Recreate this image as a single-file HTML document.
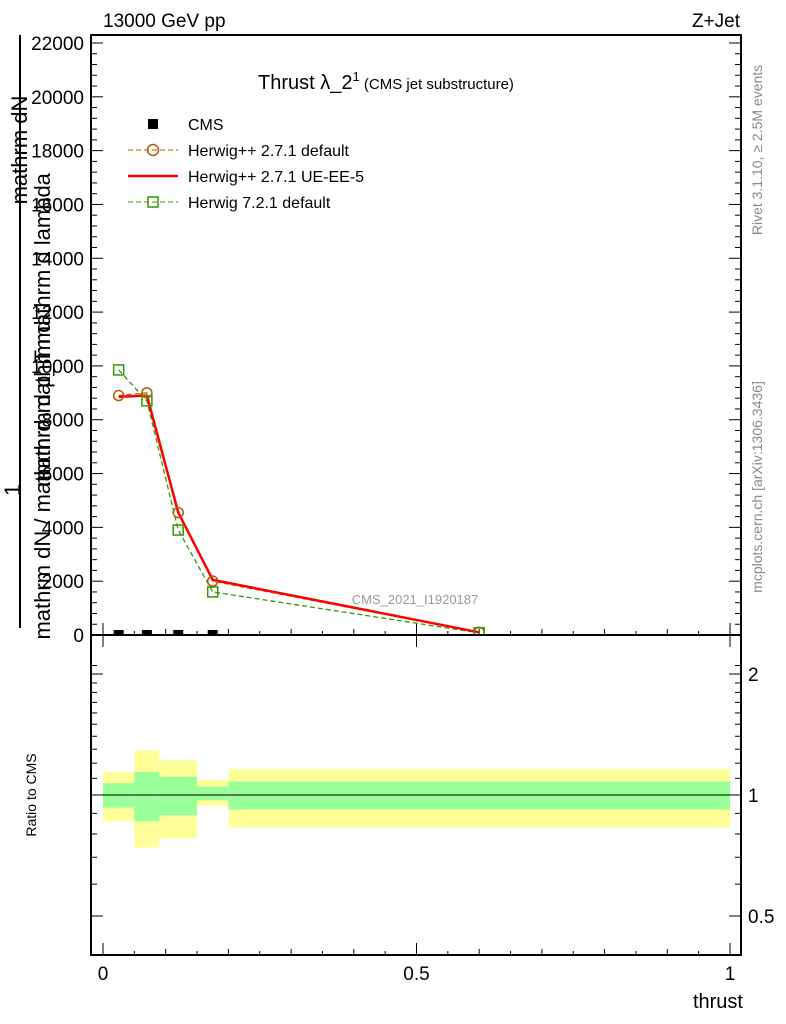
<!DOCTYPE html>
<html><head><meta charset="utf-8"><style>
body{margin:0;background:#fff}
svg{display:block;font-family:"Liberation Sans",sans-serif}
</style></head><body>
<svg id="c" width="786" height="1024" viewBox="0 0 786 1024" xmlns="http://www.w3.org/2000/svg">
<defs><clipPath id="mc"><rect x="91" y="35" width="650" height="600"/></clipPath>
<clipPath id="rc"><rect x="91" y="635" width="650" height="320"/></clipPath></defs>
<text x="103" y="27" font-size="19">13000 GeV pp</text>
<text x="740" y="27" font-size="19" text-anchor="end">Z+Jet</text>
<text x="258" y="89" font-size="20">Thrust λ_2<tspan font-size="13" dy="-8">1</tspan><tspan font-size="15" dy="8"> (CMS jet substructure)</tspan></text>
<g id="ratioBands" clip-path="url(#rc)"></g>
<g id="ticks"></g>
<g id="series" clip-path="url(#mc)"></g>
<rect x="91" y="35" width="650" height="600" fill="none" stroke="#000" stroke-width="2"/>
<rect x="91" y="635" width="650" height="320" fill="none" stroke="#000" stroke-width="2"/>
<line x1="91" x2="741" y1="795" y2="795" stroke="#000" stroke-width="1"/>
<text x="415" y="604" font-size="13" fill="#999" text-anchor="middle">CMS_2021_I1920187</text>
<text x="743" y="1008" font-size="20" text-anchor="end">thrust</text>
<text transform="translate(36,795) rotate(-90)" font-size="14" text-anchor="middle">Ratio to CMS</text>
<g font-size="22">
<text transform="translate(20,490) rotate(-90)" text-anchor="middle">1</text>
<line x1="20" x2="20" y1="35" y2="628" stroke="#000" stroke-width="2"/>
<text transform="translate(27,150) rotate(-90)" text-anchor="middle">mathrm dN</text>
<text transform="translate(50,330) rotate(-90)" text-anchor="middle">mathrm d p_T mathrm d lambda</text>
<text transform="translate(50,480) rotate(-90)" text-anchor="middle">mathrm dN / mathrm d mathrm d</text>
</g>
<text transform="translate(762,150) rotate(-90)" font-size="14" fill="#888" text-anchor="middle">Rivet 3.1.10, ≥ 2.5M events</text>
<text transform="translate(762,487) rotate(-90)" font-size="14" fill="#888" text-anchor="middle">mcplots.cern.ch [arXiv:1306.3436]</text>
<g font-size="16">
<rect x="148" y="119" width="10" height="10" fill="#000"/><text x="188" y="130">CMS</text>
<line x1="128" x2="178" y1="150" y2="150" stroke="#b35900" stroke-dasharray="5,3"/><circle cx="153" cy="150" r="5.5" fill="none" stroke="#b35900" stroke-width="1.5"/><text x="188" y="156">Herwig++ 2.7.1 default</text>
<line x1="128" x2="178" y1="176" y2="176" stroke="#f00" stroke-width="2.5"/><text x="188" y="182">Herwig++ 2.7.1 UE-EE-5</text>
<line x1="128" x2="178" y1="202" y2="202" stroke="#339900" stroke-dasharray="5,3"/><rect x="148" y="197" width="10" height="10" fill="none" stroke="#339900" stroke-width="1.5"/><text x="188" y="208">Herwig 7.2.1 default</text>
</g>
</svg>
<script>
const binEdges=[0,0.05,0.09,0.15,0.2,1];
const xPoints=[0.025,0.07,0.12,0.175,0.6];
const cmsVals=[0,0,0,0,0];
const hppDefault=[8900,9000,4550,2000,100];
const hppUE=[8850,8900,4550,2050,100];
const h7Default=[9850,8700,3900,1600,80];
const yTicks=[0,2000,4000,6000,8000,10000,12000,14000,16000,18000,20000,22000];
const yTickLabels=["0","2000","4000","6000","8000","10000","12000","14000","16000","18000","20000","22000"];
const yellowHi=[1.14,1.29,1.22,1.09,1.16];
const yellowLo=[0.86,0.74,0.78,0.94,0.83];
const greenHi=[1.07,1.14,1.11,1.05,1.08];
const greenLo=[0.93,0.86,0.89,0.97,0.92];
const xTicks=[0,0.5,1];
const xTickLabels=["0","0.5","1"];
const rTicks=[0.5,1,2];
const rTickLabels=["0.5","1","2"];
const NS="http://www.w3.org/2000/svg";
const X=v=>103+v*627;
const Y=v=>635-v*(592/22000);
const R=v=>795-Math.log2(v)*121;
function mk(tag,attrs,parent){const e=document.createElementNS(NS,tag);for(const k in attrs)e.setAttribute(k,attrs[k]);parent.appendChild(e);return e;}
const bands=document.getElementById('ratioBands');
for(let i=0;i<xPoints.length;i++){
 const x0=X(binEdges[i]),x1=X(binEdges[i+1]);
 const y=mk('rect',{x:x0,y:R(yellowHi[i]),width:x1-x0,height:R(yellowLo[i])-R(yellowHi[i]),fill:'#ffff99'},bands);
 
 
 const g=mk('rect',{x:x0,y:R(greenHi[i]),width:x1-x0,height:R(greenLo[i])-R(greenHi[i]),fill:'#99ff99'},bands);
 
 
}
const tk=document.getElementById('ticks');
for(let i=0;i<yTicks.length;i++){
 const y=Y(yTicks[i]);
 mk('line',{x1:91,x2:103,y1:y,y2:y,stroke:'#000'},tk);mk('line',{x1:729,x2:741,y1:y,y2:y,stroke:'#000'},tk);
 if(i<yTicks.length-1)for(let j=1;j<5;j++){const ym=Y(yTicks[i]+j*400);mk('line',{x1:91,x2:97,y1:ym,y2:ym,stroke:'#000'},tk);mk('line',{x1:735,x2:741,y1:ym,y2:ym,stroke:'#000'},tk);}
 const t=mk('text',{x:84,y:y+7,'font-size':19,'text-anchor':'end'},tk);t.textContent=yTickLabels[i];
 
 
}
for(let i=0;i<xTicks.length;i++){
 const x=X(xTicks[i]);
 [[635,623],[635,647],[955,943]].forEach(p=>mk('line',{x1:x,x2:x,y1:p[0],y2:p[1],stroke:'#000'},tk));
 const t=mk('text',{x:x,y:980,'font-size':19,'text-anchor':'middle'},tk);t.textContent=xTickLabels[i];
 
 
}
for(let v=0.1;v<1;v+=0.1){const x=X(v);if(Math.abs(v-0.5)<1e-6)continue;[[635,629],[955,949]].forEach(p=>mk('line',{x1:x,x2:x,y1:p[0],y2:p[1],stroke:'#000'},tk));}
for(let v=0.05;v<1;v+=0.1){const x=X(v);[[635,631],[955,951]].forEach(p=>mk('line',{x1:x,x2:x,y1:p[0],y2:p[1],stroke:'#000'},tk));}
for(let v=0.5;v<=2.2;v+=0.1){const y=R(v);if(y<636)continue;mk('line',{x1:91,x2:97,y1:y,y2:y,stroke:'#000'},tk);mk('line',{x1:735,x2:741,y1:y,y2:y,stroke:'#000'},tk);}
for(let i=0;i<rTicks.length;i++){
 const y=R(rTicks[i]);
 mk('line',{x1:91,x2:103,y1:y,y2:y,stroke:'#000'},tk);mk('line',{x1:729,x2:741,y1:y,y2:y,stroke:'#000'},tk);
 const t=mk('text',{x:748,y:y+7,'font-size':19},tk);t.textContent=rTickLabels[i];
 
 
}
const s=document.getElementById('series');
function pts(a){return a.map((v,i)=>X(xPoints[i])+','+Y(v)).join(' ');}
const l1=mk('polyline',{points:pts(hppDefault),fill:'none',stroke:'#b35900','stroke-width':1.3,'stroke-dasharray':'5,3'},s);


const l3=mk('polyline',{points:pts(h7Default),fill:'none',stroke:'#339900','stroke-width':1.3,'stroke-dasharray':'5,3'},s);


const l2=mk('polyline',{points:pts(hppUE),fill:'none',stroke:'#f00','stroke-width':2.5},s);


xPoints.forEach((xv,i)=>{
 const c=mk('circle',{cx:X(xv),cy:Y(hppDefault[i]),r:5,fill:'none',stroke:'#b35900','stroke-width':1.5},s);
 
 
 const q=mk('rect',{x:X(xv)-5,y:Y(h7Default[i])-5,width:10,height:10,fill:'none',stroke:'#339900','stroke-width':1.5},s);
 
 
 if(i<4){const d=mk('rect',{x:X(xv)-5,y:Y(cmsVals[i])-5,width:10,height:10,fill:'#000'},s);
 
 }
});
</script>
</body></html>
